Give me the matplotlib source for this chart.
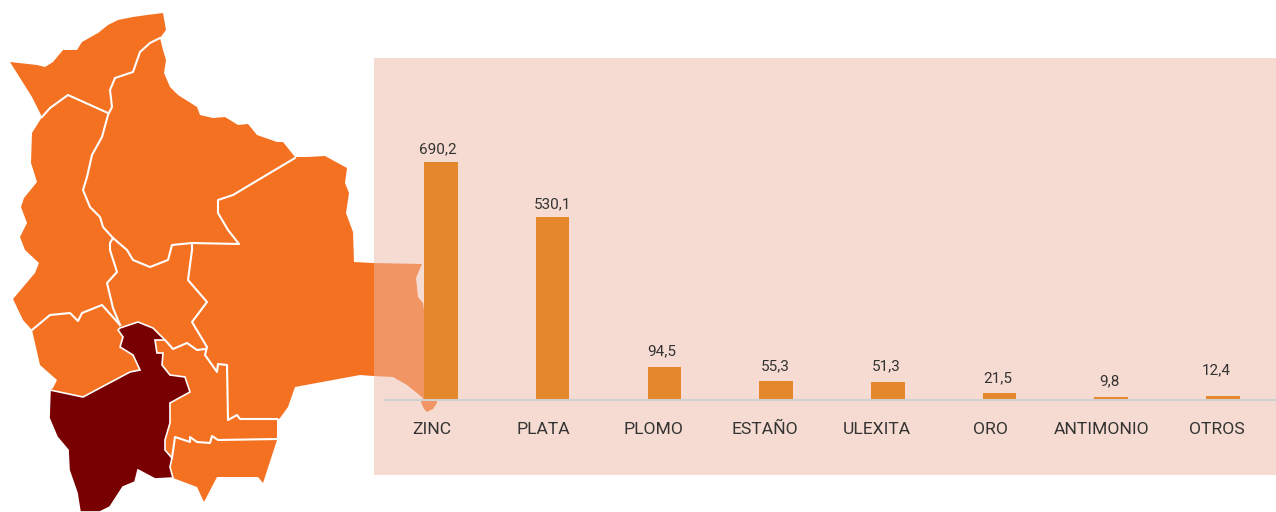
#!/usr/bin/env python3
# -*- coding: utf-8 -*-
import numpy as np
import matplotlib
matplotlib.use('Agg')
import matplotlib.pyplot as plt
from matplotlib.patches import Polygon, Rectangle

plt.rcParams['font.family'] = ['Roboto', 'DejaVu Sans']

minerals = ['ZINC', 'PLATA', 'PLOMO', 'ESTAÑO', 'ULEXITA', 'ORO', 'ANTIMONIO', 'OTROS']
values = [690.2, 530.1, 94.5, 55.3, 51.3, 21.5, 9.8, 12.4]
value_labels = ['690,2', '530,1', '94,5', '55,3', '51,3', '21,5', '9,8', '12,4']

# small nudges (pixels) of the texts, the original is not quite aligned
label_dx = [-3, 0, -3, -1, -2, -2, -2, -7]
label_dy = [6, 6, 9, 8, 9, 7, 8, 18]
tick_shift = [-0.08, -0.08, -0.10, -0.10, -0.10, -0.08, -0.09, -0.05]

# map outlines, traced in image pixels
country = [(10, 62), (37, 65), (45, 67), (53, 62), (63, 50), (77, 50), (82, 42), (98, 33),
           (108, 25), (118, 20), (133, 17), (147, 15), (163, 13), (166, 30), (160, 38),
           (163, 50), (166, 60), (164, 73), (170, 87), (178, 95), (197, 107), (200, 115),
           (213, 118), (225, 117), (238, 125), (248, 124), (257, 135), (277, 142),
           (283, 142), (295, 157), (307, 157), (325, 156), (347, 168), (345, 183),
           (349, 193), (346, 213), (353, 232), (354, 262), (373, 263), (422, 264),
           (416, 278), (418, 297), (423, 303), (437, 400), (437, 403), (433, 409), (427, 412),
           (424, 409), (421, 402), (423, 398), (407, 385), (393, 377), (373, 376), (360, 375),
           (295, 387), (288, 407), (280, 418), (277, 420), (277, 440), (263, 483),
           (258, 477), (217, 477), (204, 502), (197, 487), (173, 478), (155, 479),
           (138, 470), (135, 482), (123, 487), (110, 507), (100, 512), (80, 512),
           (77, 493), (69, 470), (68, 450), (57, 437), (49, 418), (50, 390), (53, 388),
           (57, 380), (40, 365), (32, 330), (23, 320), (13, 299), (35, 273), (39, 263),
           (25, 250), (20, 237), (27, 223), (21, 207), (24, 198), (33, 187), (37, 182),
           (31, 163), (32, 133), (42, 117), (32, 97)]

potosi = [(120, 328), (138, 322), (153, 328), (165, 340), (155, 340), (157, 353), (163, 353),
          (162, 365), (170, 375), (185, 377), (190, 392), (170, 403), (170, 423), (165, 440),
          (165, 450), (172, 458), (170, 467), (173, 478), (155, 479), (138, 470), (135, 482),
          (123, 487), (110, 507), (100, 512), (80, 512), (77, 493), (69, 470), (68, 450),
          (57, 437), (49, 418), (50, 390), (83, 397), (130, 372), (140, 370), (133, 355),
          (120, 347), (123, 337), (118, 330)]

borders = [
    [(160, 38), (150, 43), (140, 52), (133, 72), (115, 78), (110, 90), (112, 107), (108, 115),
     (102, 137), (92, 155), (87, 177), (83, 190), (90, 207), (100, 217), (103, 227),
     (113, 238), (127, 250), (133, 260), (150, 267), (168, 260), (172, 245), (192, 243),
     (239, 244), (228, 230), (218, 213), (218, 200), (233, 195), (295, 158)],
    [(42, 117), (50, 108), (68, 95), (108, 113)],
    [(113, 238), (110, 243), (110, 250), (117, 272), (107, 283), (113, 308), (120, 325)],
    [(192, 243), (192, 250), (188, 280), (207, 302), (192, 322), (207, 347), (205, 355),
     (217, 372), (218, 364), (227, 365), (228, 420), (237, 415), (240, 419), (277, 419)],
    [(32, 330), (50, 315), (70, 313), (78, 321), (82, 313), (102, 305), (120, 325)],
    [(165, 340), (173, 349), (187, 343), (197, 350), (205, 349)],
    [(172, 458), (175, 437), (190, 442), (190, 437), (197, 442), (210, 443), (212, 436),
     (218, 440), (277, 439)],
]

W, H = 1276, 512
fig = plt.figure(figsize=[W / 100, H / 100], dpi=100)

# map and panel, in pixel coordinates
ax0 = fig.add_axes([0, 0, 1, 1])
ax0.set_xlim(0, W)
ax0.set_ylim(H, 0)
ax0.set_axis_off()
ax0.add_patch(Polygon(country, closed=True, facecolor='#F57122', edgecolor='none', zorder=1))
ax0.add_patch(Polygon(potosi, closed=True, facecolor='#780000', edgecolor='white', lw=1.2, zorder=2))
for line in borders:
    line = np.array(line)
    ax0.plot(line[:, 0], line[:, 1], color='white', lw=1.5, zorder=3)
# half transparent so the east of the map shows through
ax0.add_patch(Rectangle((374, 58), 902, 417, facecolor='#EFB9A7', alpha=0.5,
                        edgecolor='none', zorder=4))

# bars
ax = fig.add_axes([385 / W, (H - 400) / H, (W - 385) / W, 342 / H])
ax.patch.set_visible(False)
xx = np.arange(len(minerals))
ax.bar(xx, values, width=0.30, color='#E5872B', zorder=2)
ax.set_xlim(-0.501, 7.475)
ax.set_ylim(0, 992)
for spine in ['top', 'left', 'right']:
    ax.spines[spine].set_visible(False)
ax.spines['bottom'].set_color('#D0D0D0')
ax.spines['bottom'].set_linewidth(1.5)
ax.set_yticks([])
ax.set_xticks(xx + np.array(tick_shift))
ax.set_xticklabels(minerals, fontsize=12.6, color='#333333')
ax.tick_params(axis='x', length=0, pad=15.5)

for ii in xx:
    ax.annotate(value_labels[ii], (xx[ii], values[ii]), xytext=(label_dx[ii], label_dy[ii]),
                textcoords='offset pixels', ha='center', va='bottom',
                fontsize=11, color='#333333')

plt.savefig('out.png', dpi=100)
